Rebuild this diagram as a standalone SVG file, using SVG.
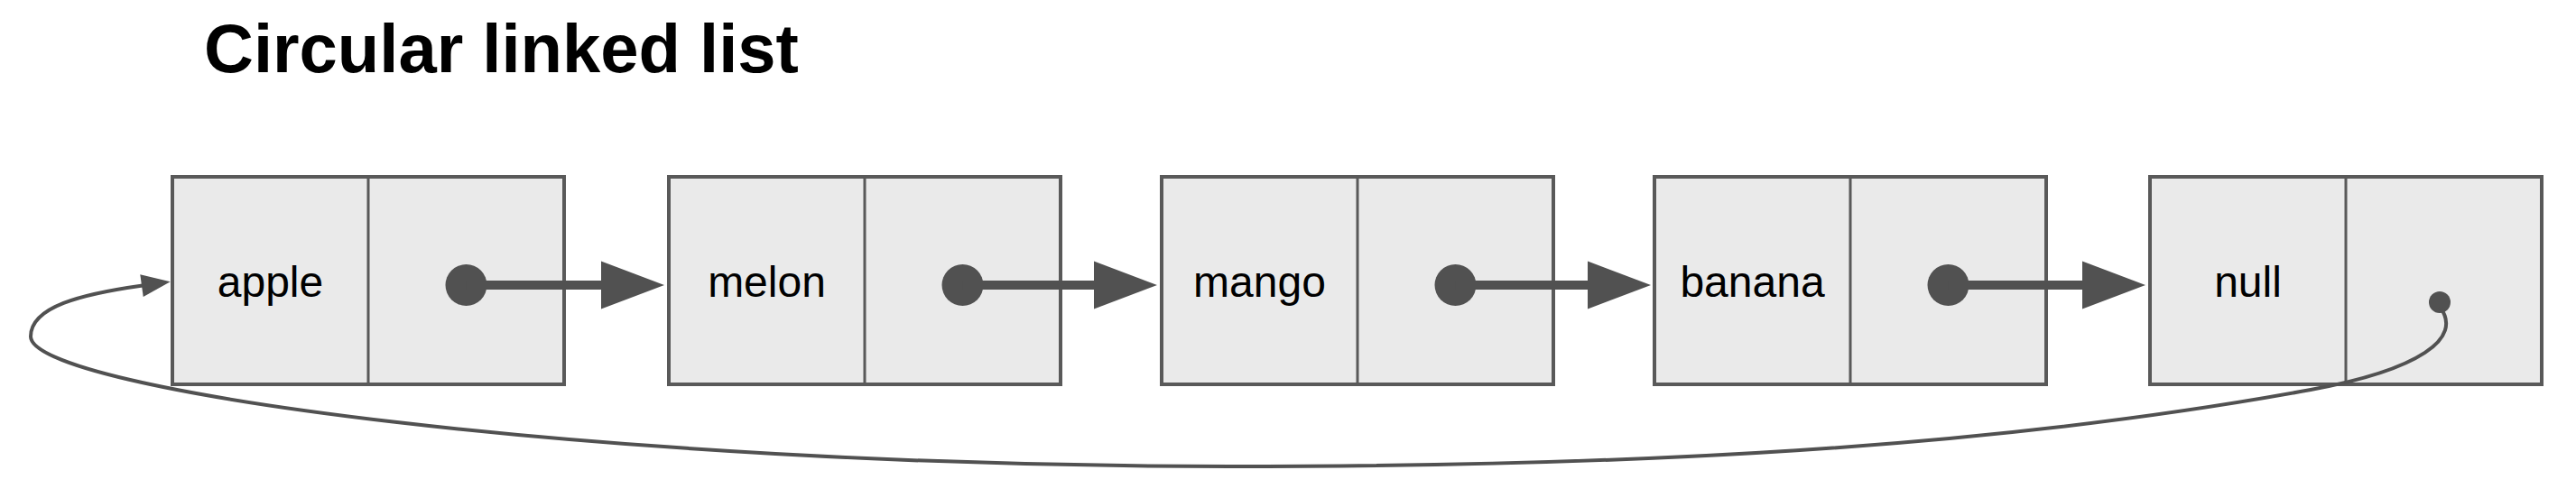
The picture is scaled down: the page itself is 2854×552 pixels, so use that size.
<svg xmlns="http://www.w3.org/2000/svg" width="2854" height="552" viewBox="0 0 2854 552">
<style>
.cell{fill:#eaeaea;stroke:#595959;stroke-width:4;stroke-linejoin:miter}
.div{stroke:#595959;stroke-width:3}
.lbl{font-family:"Liberation Sans",Arial,sans-serif;font-size:48px;fill:#000;text-anchor:middle}
.title{font-family:"Liberation Sans",Arial,sans-serif;font-size:76px;font-weight:bold;fill:#000}
.dot{fill:#515151}
.ptr{stroke:#515151;stroke-width:10;fill:none;marker-end:url(#bigHead)}
.loop{stroke:#515151;stroke-width:4;fill:none;marker-end:url(#smallHead)}
</style>
<defs>
<marker id="bigHead" markerUnits="userSpaceOnUse" markerWidth="71" markerHeight="53" refX="1" refY="26.5" orient="auto" overflow="visible">
<path d="M0,0 L70,26.5 L0,53 Z" fill="#515151"/>
</marker>
<marker id="smallHead" markerUnits="userSpaceOnUse" markerWidth="33" markerHeight="25" refX="1" refY="12.5" orient="auto" overflow="visible">
<path d="M0,0 L32,12.5 L0,25 Z" fill="#515151"/>
</marker>
</defs>
<rect width="2854" height="552" fill="#ffffff"/>
<text class="title" x="226" y="80">Circular linked list</text>
<g id="node-apple">
<rect class="cell" x="191" y="196" width="434" height="230"/>
<line class="div" x1="408" y1="196" x2="408" y2="426"/>
<text class="lbl" x="299.5" y="329">apple</text>
<circle class="dot" cx="516.5" cy="316" r="23"/>
</g>
<g id="node-melon">
<rect class="cell" x="741" y="196" width="434" height="230"/>
<line class="div" x1="958" y1="196" x2="958" y2="426"/>
<text class="lbl" x="849.5" y="329">melon</text>
<circle class="dot" cx="1066.5" cy="316" r="23"/>
</g>
<g id="node-mango">
<rect class="cell" x="1287" y="196" width="434" height="230"/>
<line class="div" x1="1504" y1="196" x2="1504" y2="426"/>
<text class="lbl" x="1395.5" y="329">mango</text>
<circle class="dot" cx="1612.5" cy="316" r="23"/>
</g>
<g id="node-banana">
<rect class="cell" x="1833" y="196" width="434" height="230"/>
<line class="div" x1="2050" y1="196" x2="2050" y2="426"/>
<text class="lbl" x="1941.5" y="329">banana</text>
<circle class="dot" cx="2158.5" cy="316" r="23"/>
</g>
<g id="node-null">
<rect class="cell" x="2382" y="196" width="434" height="230"/>
<line class="div" x1="2599" y1="196" x2="2599" y2="426"/>
<text class="lbl" x="2490.5" y="329">null</text>
<circle class="dot" cx="2703" cy="335" r="12"/>
</g>
<g id="connectors">
<line class="ptr" x1="516.5" y1="316" x2="667" y2="316"/>
<line class="ptr" x1="1066.5" y1="316" x2="1213" y2="316"/>
<line class="ptr" x1="1612.5" y1="316" x2="1760" y2="316"/>
<line class="ptr" x1="2158.5" y1="316" x2="2308" y2="316"/>
<path class="loop" d="M2703,340 C2730,375 2680,410 2560,432 C2200,498 1800,517 1362,517 C662,517 34,433 34,373 C34,340 90,326 158,316.5"/>
</g>
</svg>
